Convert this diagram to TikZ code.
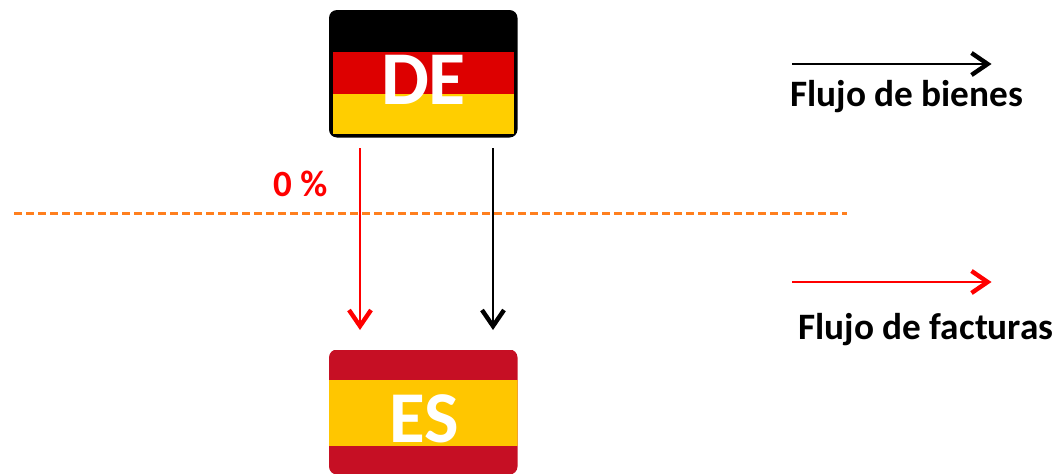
\documentclass[tikz,border=0pt]{standalone}
\usepackage{fontspec}
\setmainfont{Carlito}
\usetikzlibrary{arrows.meta}
\definecolor{deRed}{HTML}{DD0000}
\definecolor{deGold}{HTML}{FFCE00}
\definecolor{esRed}{HTML}{C60F24}
\definecolor{esGold}{HTML}{FFC600}
\definecolor{cut}{HTML}{FF7F1E}
\pgfdeclarearrow{
  name=VHead,
  setup code={\pgfarrowssettipend{0pt}\pgfarrowssetlineend{-8pt}},
  drawing code={
    \pgfsetlinewidth{4.4pt}\pgfsetmiterjoin\pgfsetbuttcap\pgfsetdash{}{0pt}
    \pgfpathmoveto{\pgfqpoint{-20.5pt}{11pt}}
    \pgfpathlineto{\pgfqpoint{-4.4pt}{0pt}}
    \pgfpathlineto{\pgfqpoint{-20.5pt}{-11pt}}
    \pgfusepathqstroke
  }
}
\tikzset{
  flow/.style={line width=2.6pt,-{VHead}},
  legendtext/.style={font=\fontsize{37.3}{37.3}\selectfont\bfseries,anchor=base west,inner sep=0pt},
  flagtext/.style={font=\fontsize{76}{76}\selectfont\bfseries,text=white,anchor=base,inner sep=0pt},
  flagbox/.style={minimum width=188pt,inner sep=0pt,rounded corners=8pt}
}
\begin{document}
\begin{tikzpicture}[x=1pt,y=-1pt]
\useasboundingbox (0,0) rectangle (1058,474);
% German flag
\begin{scope}
\clip[rounded corners=8pt] (329,10) rectangle (517.5,137.5);
\fill[black] (329,10) rectangle (517.5,137.5);
\fill[deRed] (333,52) rectangle (514,94);
\fill[deGold] (333,94) rectangle (514,133.5);
\end{scope}
\node[flagbox,minimum height=127.5pt] (de) at (423.25,73.75) {};
\node[flagtext] (detext) at (423.5,104) {DE};
% Spanish flag
\begin{scope}
\clip[rounded corners=8pt] (329,349.5) rectangle (517.5,474.5);
\fill[esRed] (329,349.5) rectangle (517.5,474.5);
\fill[esGold] (329,379.5) rectangle (517.5,446);
\end{scope}
\node[flagbox,minimum height=125pt] (es) at (423.25,412) {};
\node[flagtext,font=\fontsize{73}{73}\selectfont\bfseries] (estext) at (424,442) {ES};
\coordinate (cutL) at (14,213.5);
\coordinate (cutR) at (847,213.5);
% connectors
\coordinate (redS) at (360,148);
\coordinate (redE) at (360,330.5);
\coordinate (blkS) at (493,148);
\coordinate (blkE) at (493,330.5);
\draw[flow,red] (redS) -- (redE);
\draw[flow,black] (blkS) -- (blkE);
\draw[cut,line width=2.6pt,dash pattern=on 8pt off 4pt] (cutL) -- (cutR);
\node[font=\fontsize{37}{37}\selectfont\bfseries,text=red,anchor=base west,inner sep=0pt] (pct) at (273,196.5) {0 \%};
% legend
\coordinate (l1S) at (792,64);
\coordinate (l1E) at (992,64);
\coordinate (l2S) at (792,282);
\coordinate (l2E) at (992,282);
\draw[flow,black] (l1S) -- (l1E);
\draw[flow,red] (l2S) -- (l2E);
\node[legendtext] (goods) at (790,106.5) {Flujo de bienes};
\node[legendtext] (invoices) at (798,339) {Flujo de facturas};
\end{tikzpicture}
\end{document}
